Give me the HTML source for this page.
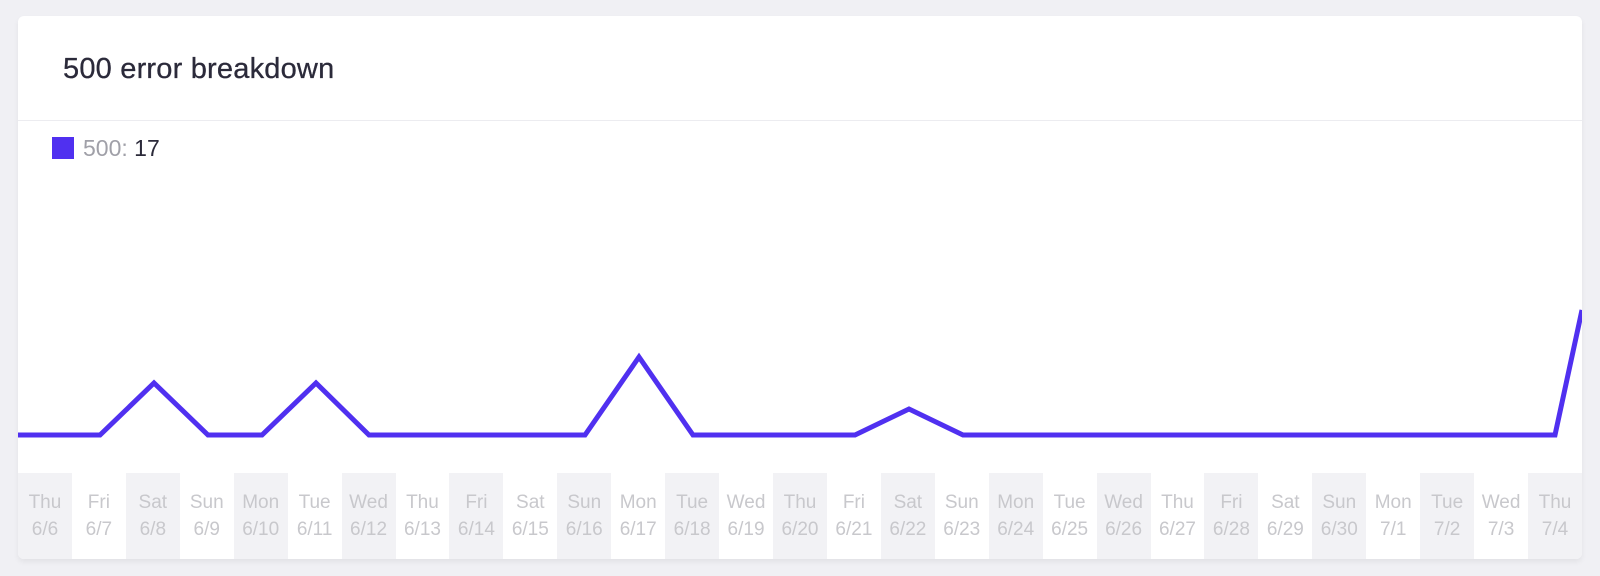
<!DOCTYPE html>
<html><head><style>
body{margin:0;width:1600px;height:576px;background:#f0f0f4;font-family:"Liberation Sans",sans-serif;position:relative;overflow:hidden}
.card{position:absolute;left:18px;top:16px;width:1564px;height:543px;background:#fff;border-radius:6px;box-shadow:0 3px 6px rgba(0,0,0,0.06);overflow:hidden}
.title{position:absolute;left:45px;top:37px;font-size:29px;color:#2b2a3a;letter-spacing:0.2px;-webkit-text-stroke:0.3px #2b2a3a}
.div{position:absolute;left:0;top:104px;width:100%;height:1px;background:#ececf0}
.leg{position:absolute;left:34px;top:120px;font-size:23px;color:#2b2a3a;line-height:24px}
.sq{display:inline-block;width:22px;height:22px;background:#5030f0;vertical-align:-3px;margin-right:9px}
.col{position:absolute;top:457px;height:86px;width:53.93px;text-align:center;color:#c8c8cc;font-size:19px;line-height:27px;padding-top:16px;box-sizing:border-box}
.s{background:#f2f2f5}
</style></head><body>
<div class="card">
<div class="title">500 error breakdown</div>
<div class="div"></div>
<div class="leg"><span class="sq"></span><span style="color:#a0a0a8">500:</span> 17</div>
<div id="cols"></div>
<svg style="position:absolute;left:0;top:0" width="1564" height="543">
<polyline fill="none" stroke="#5030f0" stroke-width="5" stroke-linejoin="miter" points="-10,419 82,419 136,367 190,419 244,419 298,367 351,419 567,419 621,341 675,419 837,419 891,393 945,419 1537,419 1564,294"/>
</svg>
</div>
<script>
var d=["Thu 6/6","Fri 6/7","Sat 6/8","Sun 6/9","Mon 6/10","Tue 6/11","Wed 6/12","Thu 6/13","Fri 6/14","Sat 6/15","Sun 6/16","Mon 6/17","Tue 6/18","Wed 6/19","Thu 6/20","Fri 6/21","Sat 6/22","Sun 6/23","Mon 6/24","Tue 6/25","Wed 6/26","Thu 6/27","Fri 6/28","Sat 6/29","Sun 6/30","Mon 7/1","Tue 7/2","Wed 7/3","Thu 7/4"];
var h="";d.forEach(function(t,i){var p=t.split(" ");h+='<div class="col'+(i%2==0?' s':'')+'" style="left:'+(i*53.93)+'px">'+p[0]+'<br>'+p[1]+'</div>';});
document.getElementById("cols").innerHTML=h;
</script>
</body></html>
